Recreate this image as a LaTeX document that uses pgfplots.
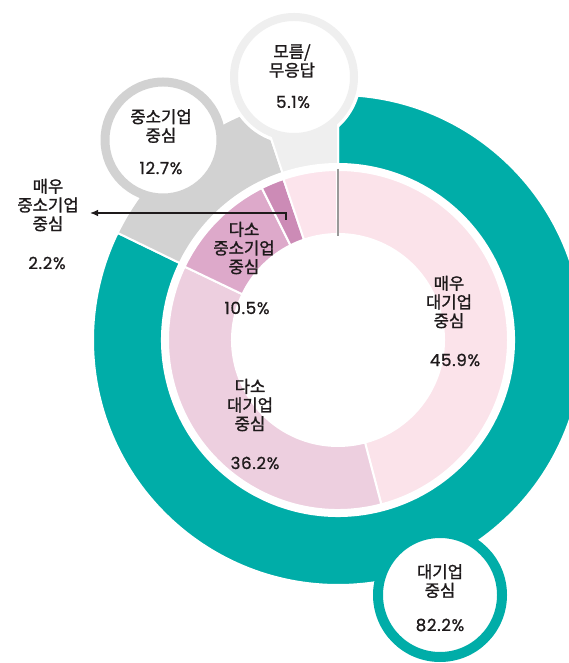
\documentclass[border=0pt]{standalone}
\usepackage{fontspec}
\setmainfont{Noto Sans CJK KR}
\newfontfamily\kfont{Noto Sans CJK KR}[FakeBold=1.3]
\newfontfamily\numfont{Poppins}[FakeBold=0.9,LetterSpace=4]
\usepackage{pgfplots}
\pgfplotsset{compat=1.18}
\usetikzlibrary{arrows.meta}
\definecolor{cTeal}{HTML}{00ADA8}
\definecolor{cGrey}{HTML}{D2D2D2}
\definecolor{cLGrey}{HTML}{EFEFEF}
\definecolor{pA}{HTML}{FBE3EA}
\definecolor{pB}{HTML}{EDCFDF}
\definecolor{pC}{HTML}{DDA9CA}
\definecolor{pD}{HTML}{CC8BB6}
\definecolor{pE}{HTML}{FCE4EC}
\definecolor{txt}{HTML}{1E1A1B}
% outer ring: share of answers
\def\outerdata{82.2/cTeal,12.7/cGrey,5.1/cLGrey}
% inner ring
\def\innerdata{45.9/pA,36.2/pB,10.5/pC,2.2/pD,5.1/pE}
\newcommand\seg[5]{%
  \pgfmathsetlengthmacro\Ri{#1*0.75pt}%
  \pgfmathsetlengthmacro\Ro{#2*0.75pt}%
  \pgfmathsetlengthmacro\Rd{(#2-#1)*0.75pt}%
  \pgfmathsetmacro\aB{#4+180}%
  \fill[#5,draw=white,line width=1.5pt] (axis cs:338,323) ++(#3:\Ro)
    arc[start angle=#3,end angle=#4,radius=\Ro] -- ++(\aB:\Rd)
    arc[start angle=#4,end angle=#3,radius=\Ri] -- cycle;}
\newcommand\ring[4]{% list, rin, rout, only index (0 = all)
  \gdef\acc{0}\gdef\idx{0}%
  \foreach \v/\c in #1{%
    \pgfmathtruncatemacro\ii{\idx+1}\xdef\idx{\ii}%
    \pgfmathsetmacro\aS{90-3.6*\acc}%
    \pgfmathsetmacro\aE{90-3.6*(\acc+\v)}%
    \ifnum#4=0 \seg{#2}{#3}{\aS}{\aE}{\c}\else
      \ifnum#4=\ii\relax \seg{#2}{#3}{\aS}{\aE}{\c}\fi\fi
    \pgfmathsetmacro\t{\acc+\v}\xdef\acc{\t}%
  }}
\tikzset{kt/.style={align=center,text=txt,font=\kfont\fontsize{12.5}{14}\selectfont},
  nt/.style={text=txt,font=\numfont\fontsize{12.5}{14}\selectfont}}
\begin{document}
\begin{tikzpicture}
\begin{axis}[x=0.75pt,y=0.75pt,xmin=0,xmax=568,ymin=0,ymax=663,hide axis,clip=false]
\coordinate (sw) at (axis cs:0,0);
\coordinate (ne) at (axis cs:568,663);
\pgfplotsextra{%
  \ring{\outerdata}{176}{245}{1}%
  \ring{\outerdata}{176}{245}{2}%
  % bubble for 12.7
  \fill[white,draw=cGrey,line width=6.75pt] (axis cs:163,523) circle[radius=43.5pt];
  % halo + wedge + bubble for 5.1
  \fill[white] (axis cs:294,586) circle[radius=50.5pt];
  \ring{\outerdata}{176}{245}{3}%
  \fill[white,draw=cLGrey,line width=6pt] (axis cs:294,586) circle[radius=45pt];
  % bubble for 82.2 with small fillets
  \fill[cTeal] (axis cs:395,90) -- (axis cs:392,118) -- (axis cs:470,118) -- (axis cs:488,98) -- cycle;
  \fill[white,draw=cTeal,line width=7.5pt] (axis cs:440,68) circle[radius=46.5pt];
  \ring{\innerdata}{106}{170}{0}%
  \draw[gray!80,line width=1.5pt] (axis cs:338,494) -- (axis cs:338,427);
  \draw[txt,line width=1pt,-{Latex[length=6pt,width=5pt]}] (axis cs:286,443) -- (axis cs:286,450) -- (axis cs:90,450);
  % labels
  \node[kt] at (axis cs:292,602) {모름/\\무응답};
  \node[nt] at (axis cs:293,561) {5.1\%};
  \node[kt] at (axis cs:161,537) {중소기업\\중심};
  \node[nt] at (axis cs:161,495) {12.7\%};
  \node[kt] at (axis cs:48,458) {매우\\중소기업\\중심};
  \node[nt] at (axis cs:47,400) {2.2\%};
  \node[kt] at (axis cs:244,415) {다소\\중소기업\\중심};
  \node[nt] at (axis cs:247,355) {10.5\%};
  \node[kt] at (axis cs:449,361) {매우\\대기업\\중심};
  \node[nt] at (axis cs:455,303) {45.9\%};
  \node[kt] at (axis cs:250,258) {다소\\대기업\\중심};
  \node[nt] at (axis cs:255,200) {36.2\%};
  \node[kt] at (axis cs:440,82) {대기업\\중심};
  \node[nt] at (axis cs:440,38) {82.2\%};
}
\end{axis}
\pgfresetboundingbox
\useasboundingbox (sw) rectangle (ne);
\end{tikzpicture}
\end{document}
